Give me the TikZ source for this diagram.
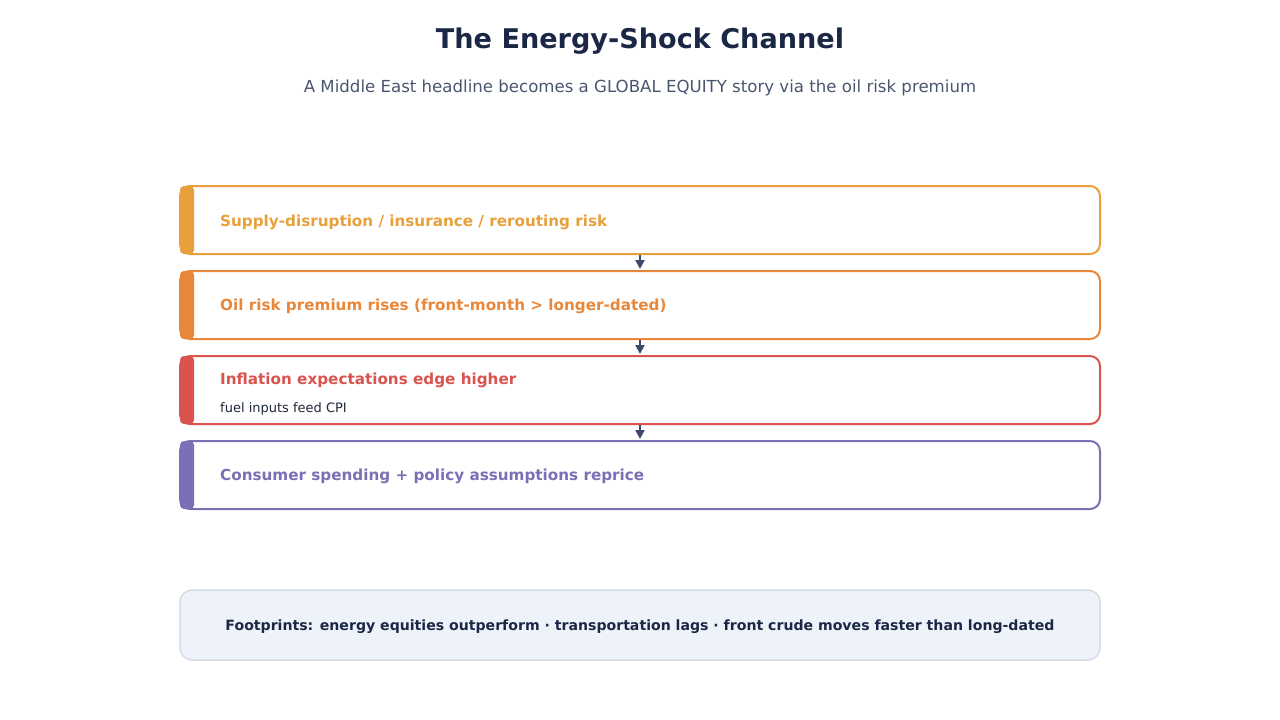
\documentclass[tikz,border=0pt]{standalone}
\usepackage{fontspec}
\setmainfont{DejaVu Sans}
\usetikzlibrary{arrows.meta}
\definecolor{cA}{HTML}{E8A03A}
\definecolor{cB}{HTML}{E8873A}
\definecolor{cC}{HTML}{D9534F}
\definecolor{cD}{HTML}{7B6FB5}
\definecolor{navy}{HTML}{1B2845}
\definecolor{slate}{HTML}{4A5670}
\definecolor{arrowc}{HTML}{3B4A6B}
\definecolor{footfill}{HTML}{EEF2F9}
\definecolor{footdraw}{HTML}{D5DCE8}
\definecolor{subtext}{HTML}{1F2937}
\tikzset{
  stagebox/.style={draw=#1, line width=2pt, fill=white, rounded corners=10pt,
    minimum width=920pt, minimum height=68pt, inner sep=0pt},
  stagelabel/.style={text=#1, font=\bfseries\fontsize{15.2}{18}\selectfont, anchor=west, inner sep=0pt},
  flowarrow/.style={draw=arrowc, line width=2pt, shorten >=1pt, -{Triangle[length=9pt,width=9pt]}},
}
\begin{document}
\begin{tikzpicture}[x=1pt,y=-1pt]
\useasboundingbox (0,0) rectangle (1280,720);
\fill[white] (0,0) rectangle (1280,720);
\node[text=navy, font=\bfseries\fontsize{27.1}{32}\selectfont, inner sep=0pt] (title) at (640,41) {The Energy-Shock Channel};
\node[text=slate, font=\fontsize{16.6}{20}\selectfont, inner sep=0pt] (subtitle) at (640,87.5) {A Middle East headline becomes a GLOBAL EQUITY story via the oil risk premium};

\foreach \n/\y/\c in {b1/220/cA, b2/305/cB, b3/390/cC, b4/475/cD}{
  \node[stagebox=\c] (\n) at (640,\y) {};
  \fill[\c, rounded corners=4pt] (180,\y-34) rectangle (194,\y+34);
}
\node[stagelabel=cA] (t1) at (220,222) {Supply-disruption / insurance / rerouting risk};
\node[stagelabel=cB] (t2) at (220,306) {Oil risk premium rises (front-month > longer-dated)};
\node[stagelabel=cC] (t3) at (220,380) {Inflation expectations edge higher};
\node[text=subtext, font=\fontsize{13}{16}\selectfont, anchor=west, inner sep=0pt] (s3) at (220,408.5) {fuel inputs feed CPI};
\node[stagelabel=cD] (t4) at (220,476) {Consumer spending + policy assumptions reprice};

\draw[flowarrow] (b1.south) -- (b2.north);
\draw[flowarrow] (b2.south) -- (b3.north);
\draw[flowarrow] (b3.south) -- (b4.north);

\node[draw=footdraw, line width=1.5pt, fill=footfill, rounded corners=12pt,
  minimum width=920pt, minimum height=70pt, inner sep=0pt] (foot) at (640,625) {};
\node[text=navy, font=\bfseries\fontsize{14.1}{17}\selectfont, inner sep=0pt] (foottext) at (640,626.5)
  {Footprints: energy equities outperform · transportation lags · front crude moves faster than long-dated};
\end{tikzpicture}
\end{document}
